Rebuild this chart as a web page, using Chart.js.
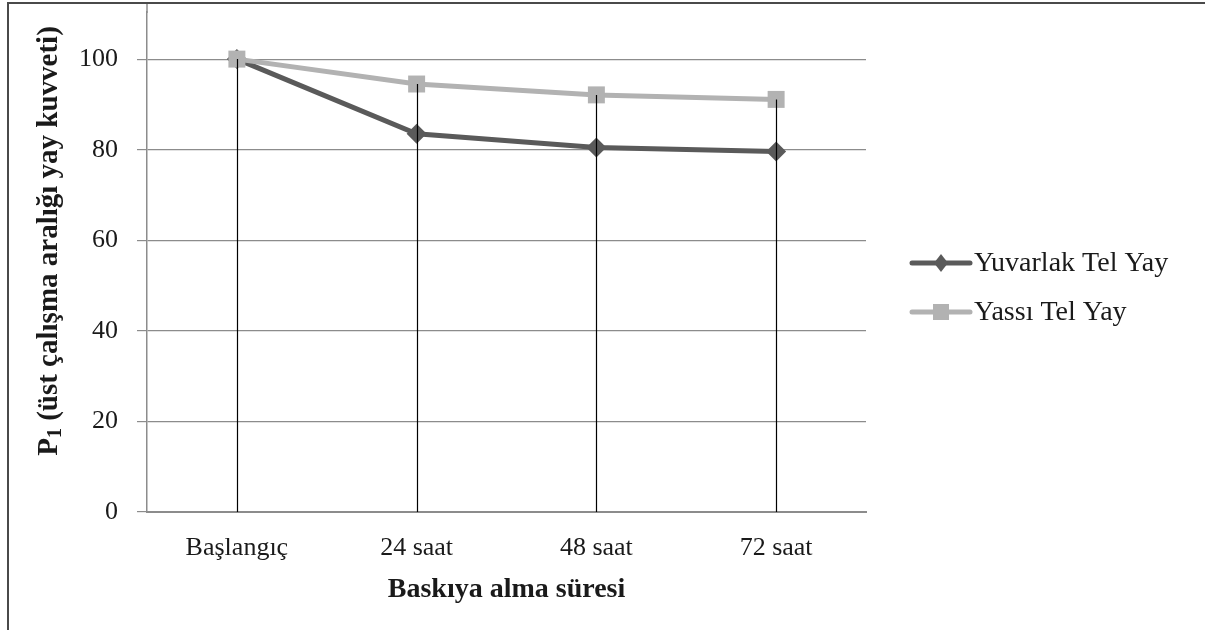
<!DOCTYPE html>
<html>
<head>
<meta charset="utf-8">
<script src="https://cdn.jsdelivr.net/npm/chart.js@4"></script>
<style>
  html, body { margin: 0; padding: 0; background: #fff; }
  #wrap { width: 1205px; height: 630px; position: relative; }
</style>
</head>
<body>
<div id="wrap"><canvas id="chart" width="1205" height="630"></canvas></div>
<script>
// data
const categories = ["Başlangıç", "24 saat", "48 saat", "72 saat"];
const yuvarlak = [100, 83.5, 80.5, 79.6];
const yassi = [100, 94.5, 92.1, 91.1];
const yTicks = [0, 20, 40, 60, 80, 100];

const SERIF = '"Liberation Serif", "Times New Roman", serif';
const COLORS = {
  dark: "#5a5a5a",
  light: "#b2b2b2",
  grid: "#8c8c8c",
  text: "#1a1a1a",
};

// drop lines from the highest point down to the x axis
const dropLines = {
  id: "dropLines",
  afterDatasetsDraw(chart) {
    const { ctx, scales: { x, y } } = chart;
    ctx.save();
    ctx.strokeStyle = "#000";
    ctx.lineWidth = 1.2;
    categories.forEach((c, i) => {
      const top = Math.max(yuvarlak[i], yassi[i]);
      const px = Math.round(x.getPixelForValue(i)) + 0.5;
      ctx.beginPath();
      ctx.moveTo(px, y.getPixelForValue(top));
      ctx.lineTo(px, y.getPixelForValue(0));
      ctx.stroke();
    });
    ctx.restore();
  },
};

// y title with subscript, custom legend, outer frame
const decor = {
  id: "decor",
  afterDraw(chart) {
    const { ctx, chartArea } = chart;
    ctx.save();
    // y axis line runs up to the frame
    ctx.strokeStyle = COLORS.grid;
    ctx.lineWidth = 1.5;
    ctx.beginPath();
    ctx.moveTo(chartArea.left, chartArea.top + 1);
    ctx.lineTo(chartArea.left, 3);
    ctx.stroke();

    // frame (left + top)
    ctx.strokeStyle = "#4a4a4a";
    ctx.lineWidth = 2;
    ctx.beginPath();
    ctx.moveTo(8, 630);
    ctx.lineTo(8, 3);
    ctx.lineTo(1205, 3);
    ctx.stroke();

    // y title
    ctx.translate(50, 241);
    ctx.rotate(-Math.PI / 2);
    ctx.fillStyle = COLORS.text;
    ctx.textBaseline = "middle";
    const big = "bold 29px " + SERIF;
    const small = "bold 20px " + SERIF;
    const rest = " (üst çalışma aralığı yay kuvveti)";
    ctx.font = big;
    const wP = ctx.measureText("P").width;
    const wR = ctx.measureText(rest).width;
    ctx.font = small;
    const w1 = ctx.measureText("1").width;
    const sx = -(wP + w1 + wR) / 2;
    ctx.font = big;
    ctx.fillText("P", sx, 0);
    ctx.font = small;
    ctx.fillText("1", sx + wP, 6);
    ctx.font = big;
    ctx.fillText(rest, sx + wP + w1, 0);
    ctx.setTransform(1, 0, 0, 1, 0, 0);

    // legend
    const items = [
      { label: "Yuvarlak Tel Yay", color: COLORS.dark, style: "diamond", y: 263 },
      { label: "Yassı Tel Yay", color: COLORS.light, style: "rect", y: 312 },
    ];
    items.forEach((it) => {
      ctx.strokeStyle = it.color;
      ctx.lineWidth = 5;
      ctx.lineCap = "round";
      ctx.beginPath();
      ctx.moveTo(912, it.y);
      ctx.lineTo(970, it.y);
      ctx.stroke();
      ctx.fillStyle = it.color;
      if (it.style === "rect") {
        ctx.fillRect(941 - 8, it.y - 8, 16, 16);
      } else {
        ctx.beginPath();
        ctx.moveTo(941, it.y - 9);
        ctx.lineTo(948, it.y);
        ctx.lineTo(941, it.y + 9);
        ctx.lineTo(934, it.y);
        ctx.closePath();
        ctx.fill();
      }
      ctx.fillStyle = COLORS.text;
      ctx.font = "28px " + SERIF;
      ctx.textBaseline = "middle";
      ctx.textAlign = "left";
      ctx.fillText(it.label, 974, it.y + 1);
    });
    ctx.restore();
  },
};

new Chart(document.getElementById("chart"), {
  type: "line",
  data: {
    labels: categories,
    datasets: [
      {
        label: "Yassı Tel Yay",
        data: yassi,
        borderColor: COLORS.light,
        backgroundColor: COLORS.light,
        borderWidth: 5,
        pointStyle: "rect",
        pointRadius: 12,
        pointBorderWidth: 0,
        tension: 0,
        order: 1,
      },
      {
        label: "Yuvarlak Tel Yay",
        data: yuvarlak,
        borderColor: COLORS.dark,
        backgroundColor: COLORS.dark,
        borderWidth: 5,
        pointStyle: "rectRot",
        pointRadius: 10,
        pointBorderWidth: 0,
        tension: 0,
        order: 2,
      },
    ],
  },
  options: {
    responsive: false,
    animation: false,
    devicePixelRatio: 1,
    layout: { padding: { top: 3, right: 339, left: 0, bottom: 0 } },
    plugins: {
      legend: { display: false },
      tooltip: { enabled: false },
    },
    scales: {
      x: {
        offset: true,
        grid: { display: false, drawTicks: false },
        border: { display: true, color: COLORS.grid, width: 2 },
        ticks: {
          color: COLORS.text,
          font: { family: SERIF, size: 26 },
          padding: 21,
          maxRotation: 0,
        },
        title: {
          display: true,
          text: "Baskıya alma süresi",
          color: COLORS.text,
          font: { family: SERIF, size: 28, weight: "bold" },
          padding: { top: 0, bottom: 23 },
        },
        afterFit(s) {
          s.height = 118;
          s.paddingLeft = 0;
          s.paddingRight = 0;
        },
      },
      y: {
        min: 0,
        max: 110.4,
        afterBuildTicks(s) { s.ticks = yTicks.map((v) => ({ value: v })); },
        grid: {
          color: COLORS.grid,
          lineWidth: 1.2,
          drawTicks: true,
          tickLength: 10,
          tickColor: COLORS.grid,
        },
        border: { display: true, color: COLORS.grid, width: 1.5 },
        ticks: {
          color: COLORS.text,
          font: { family: SERIF, size: 26 },
          padding: 19,
        },
        afterFit(s) {
          s.width = 147;
          s.paddingTop = 0;
          s.paddingBottom = 0;
        },
      },
    },
  },
  plugins: [dropLines, decor],
});
</script>
</body>
</html>
